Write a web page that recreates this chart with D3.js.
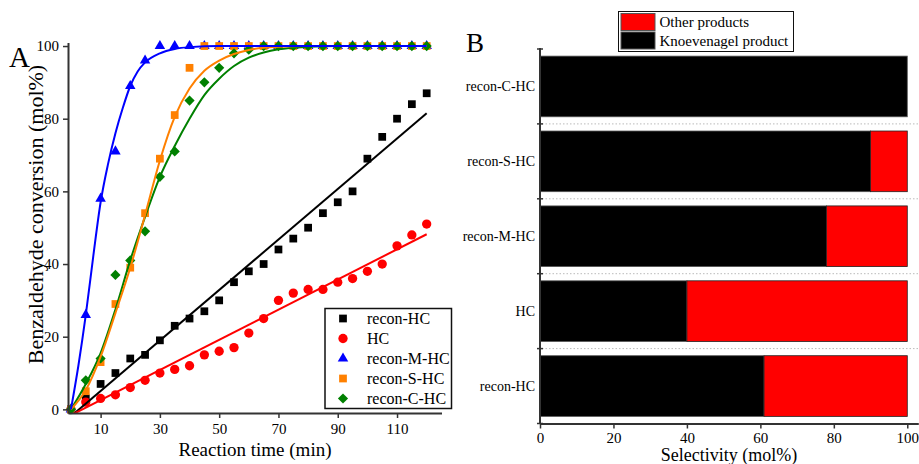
<!DOCTYPE html>
<html><head><meta charset="utf-8">
<script src="https://cdn.jsdelivr.net/npm/d3@7"></script>
<style>
body{margin:0;background:#fff}
svg{display:block}
svg text{font-family:"Liberation Serif","Times New Roman",serif;fill:#000}
</style>
</head><body>
<svg id="c" width="919" height="464" font-family="Liberation Serif"></svg>
<script>
// ---------- Panel A data ----------
const times = [0,5,10,15,20,25,30,35,40,45,50,55,60,65,70,75,80,85,90,95,100,105,110,115,120];
const reconHC  = [0,3,7,10,14,15,19,23,25,27,30,35,38,40,44,47,50,54,57,60,69,75,80,84,87];
const hc       = [0,2,3,4,6,8,10,11,12,15,16,17,21,25,30,32,33,33,35,36,38,40,45,48,51];
const reconMHC = [0,26,58,71,89,96,100,100,100,100,100,100,100,100,100,100,100,100,100,100,100,100,100,100,100];
const reconSHC = [0,5,13,29,39,54,69,81,94,100,100,100,100,100,100,100,100,100,100,100,100,100,100,100,100];
const reconCHC = [0,8,14,37,41,49,64,71,85,90,94,98,99,100,100,100,100,100,100,100,100,100,100,100,100];
const seriesNames = ["recon-HC","HC","recon-M-HC","recon-S-HC","recon-C-HC"];
const seriesColors = ["#000000","#ff0000","#0000ff","#ff8000","#008000"];
const seriesSymbols = ["square","circle","triangle","square","diamond"];

// fitted lines/curves
const reconHCFitT = [0,120];
const reconHCFitY = [-1.9,81.5];
const hcFitT = [0,120];
const hcFitY = [-1.6,48.2];
const mFitT = [0,2.5,5,7.5,10,12.5,15,17.5,20,22.5,25,30,35,40,50,60,120];
const mFitY = [0,12,26,42,57,67.5,76,83,89,93,95.5,98,99.2,99.7,100,100,100];
const sFitT = [0,5,10,15,20,25,30,35,40,45,50,55,60,65,70,80,120];
const sFitY = [0,5.3,14.5,26.5,39,53.5,68.5,80.5,88.3,93.2,96,97.8,98.9,99.5,99.8,100,100];
const cFitT = [0,5,10,15,20,25,30,35,40,45,50,55,60,65,70,80,90,120];
const cFitY = [0,7,15.5,27.5,41,53,64,72.5,80,86.5,91,94.5,96.8,98.2,99.1,99.8,100,100];

const xTicksA = [10,30,50,70,90,110];
const yTicksA = [0,20,40,60,80,100];

// ---------- Panel B data ----------
const samples = ["recon-C-HC","recon-S-HC","recon-M-HC","HC","recon-HC"];
const knoevenagel = [100,90,78,40,61];
const otherProducts = [0,10,22,60,39];
const xTicksB = [0,20,40,60,80,100];
const legendB = ["Other products","Knoevenagel product"];
const legendBColors = ["#ff0000","#000000"];

const FONT = "Liberation Serif, Times New Roman, serif";
const svg = d3.select("#c");

// ================= Panel A =================
const xA = d3.scaleLinear().domain([-1,125]).range([68,441.5]);
const yA = d3.scaleLinear().domain([-1,101]).range([413,42.4]);

svg.append("defs").append("clipPath").attr("id","clipA")
  .append("rect").attr("x",68).attr("y",38).attr("width",380).attr("height",375);

const gA = svg.append("g");

function symPath(type){
  if(type==="square") return d3.symbol(d3.symbolSquare,60)();
  if(type==="circle") return d3.symbol(d3.symbolCircle,68)();
  if(type==="triangle") return d3.symbol(d3.symbolTriangle,48)();
  if(type==="diamond") return d3.symbol(d3.symbolSquare,52)();
}
function symRot(type){ return type==="diamond" ? " rotate(45)" : ""; }

const allSeries = [reconHC,hc,reconMHC,reconSHC,reconCHC];
allSeries.forEach((vals,i)=>{
  gA.append("g").selectAll("path").data(times.map((t,j)=>[t,vals[j]]))
    .join("path")
    .attr("d",symPath(seriesSymbols[i]))
    .attr("transform",d=>`translate(${xA(d[0])},${yA(d[1])})`+symRot(seriesSymbols[i]))
    .attr("fill",seriesColors[i]);
});

const lineGen = d3.line().x(d=>xA(d[0])).y(d=>yA(d[1]));
const curveGen = d3.line().x(d=>xA(d[0])).y(d=>yA(d[1])).curve(d3.curveMonotoneX);
const fits = [
  [reconHCFitT,reconHCFitY,0,lineGen],
  [hcFitT,hcFitY,1,lineGen],
  [cFitT,cFitY,4,curveGen],
  [sFitT,sFitY,3,curveGen],
  [mFitT,mFitY,2,curveGen]
];
const gL = gA.append("g").attr("clip-path","url(#clipA)");
fits.forEach(([ts,ys,ci,gen])=>{
  gL.append("path").attr("d",gen(ts.map((t,j)=>[t,ys[j]])))
    .attr("fill","none").attr("stroke",seriesColors[ci]).attr("stroke-width",2);
});

// axes
const axA_y = gA.append("g").attr("transform","translate(68,0)")
  .call(d3.axisLeft(yA).tickValues(yTicksA).tickSize(5).tickSizeOuter(0).tickPadding(4));
const axA_x = gA.append("g").attr("transform","translate(0,413)")
  .call(d3.axisBottom(xA).tickValues(xTicksA).tickSize(5).tickSizeOuter(0).tickPadding(5));
[axA_y,axA_x].forEach(a=>{
  a.attr("font-family",FONT).attr("font-size",15);
  a.select(".domain").attr("stroke","#333").attr("stroke-width",2);
  a.selectAll(".tick line").attr("stroke","#333").attr("stroke-width",1.5);
  a.selectAll(".tick text").attr("fill","#000");
});

gA.append("text").attr("x",255).attr("y",456).attr("text-anchor","middle")
  .attr("font-size",19).text("Reaction time (min)");
gA.append("text").attr("transform","translate(43,214.5) rotate(-90)").attr("text-anchor","middle")
  .attr("font-size",22).text("Benzaldehyde conversion (mol%)");
gA.append("text").attr("x",9).attr("y",67).attr("font-size",29).text("A");

// legend A
const legA = gA.append("g");
legA.append("rect").attr("x",325).attr("y",308.5).attr("width",126.5).attr("height",100)
  .attr("fill","#fff").attr("stroke","#111").attr("stroke-width",1.5);
seriesNames.forEach((n,i)=>{
  const cy = 318.5 + i*20;
  legA.append("path").attr("d",symPath(seriesSymbols[i]))
    .attr("transform",`translate(343,${cy})`+symRot(seriesSymbols[i]))
    .attr("fill",seriesColors[i]);
  legA.append("text").attr("x",367).attr("y",cy+5.5).attr("font-size",16).text(n);
});

// ================= Panel B =================
const xB = d3.scaleLinear().domain([0,103]).range([540,918.3]);
const yB = d3.scaleBand().domain(samples).range([49,423.5]).paddingInner(0).paddingOuter(0);
const bw = yB.bandwidth();
const gB = svg.append("g");

// dotted separators
samples.slice(1).forEach(s=>{
  gB.append("line").attr("x1",542).attr("x2",918).attr("y1",yB(s)).attr("y2",yB(s))
    .attr("stroke","#bbb").attr("stroke-width",1).attr("stroke-dasharray","1.5,2");
});

samples.forEach((s,i)=>{
  const y0 = yB(s) + bw*0.095, h = bw*0.81;
  gB.append("rect").attr("x",xB(0)).attr("y",y0).attr("width",xB(knoevenagel[i])-xB(0)).attr("height",h)
    .attr("fill","#000").attr("stroke","#555").attr("stroke-width",0.8);
  if(otherProducts[i]>0){
    gB.append("rect").attr("x",xB(knoevenagel[i])).attr("y",y0)
      .attr("width",xB(knoevenagel[i]+otherProducts[i])-xB(knoevenagel[i])).attr("height",h)
      .attr("fill","#ff0000").attr("stroke","#222").attr("stroke-width",0.8);
  }
  gB.append("text").attr("x",535).attr("y",yB(s)+bw/2+4.5).attr("text-anchor","end")
    .attr("font-size",14).text(s);
});

// left spine with crossing ticks
gB.append("line").attr("x1",540).attr("x2",540).attr("y1",48).attr("y2",423.5)
  .attr("stroke","#333").attr("stroke-width",2);
samples.concat(["__end"]).forEach((s,i)=>{
  const yy = i<samples.length ? yB(s) : yB(samples[samples.length-1])+bw;
  gB.append("line").attr("x1",537).attr("x2",543).attr("y1",yy).attr("y2",yy)
    .attr("stroke","#333").attr("stroke-width",1.5);
});
const axB_x = gB.append("g").attr("transform","translate(0,423.5)")
  .call(d3.axisBottom(xB).tickValues(xTicksB).tickSize(5).tickSizeOuter(0).tickPadding(4));
axB_x.attr("font-family",FONT).attr("font-size",15);
axB_x.select(".domain").attr("stroke","#333").attr("stroke-width",2);
axB_x.selectAll(".tick line").attr("stroke","#333").attr("stroke-width",1.5);
axB_x.selectAll(".tick text").attr("fill","#000");

gB.append("text").attr("x",729).attr("y",461).attr("text-anchor","middle")
  .attr("font-size",18).text("Selectivity (mol%)");
gB.append("text").attr("x",466).attr("y",52).attr("font-size",27).text("B");

// legend B
const legB = gB.append("g");
legB.append("rect").attr("x",618.5).attr("y",11.5).attr("width",175).attr("height",40)
  .attr("fill","#fff").attr("stroke","#111").attr("stroke-width",1);
legendB.forEach((n,i)=>{
  const yy = 13.5 + i*18.5;
  legB.append("rect").attr("x",621).attr("y",yy).attr("width",34).attr("height",17)
    .attr("fill",legendBColors[i]).attr("stroke","#555").attr("stroke-width",1);
  legB.append("text").attr("x",659.5).attr("y",yy+13.5).attr("font-size",15).text(n);
});
</script>
</body></html>
